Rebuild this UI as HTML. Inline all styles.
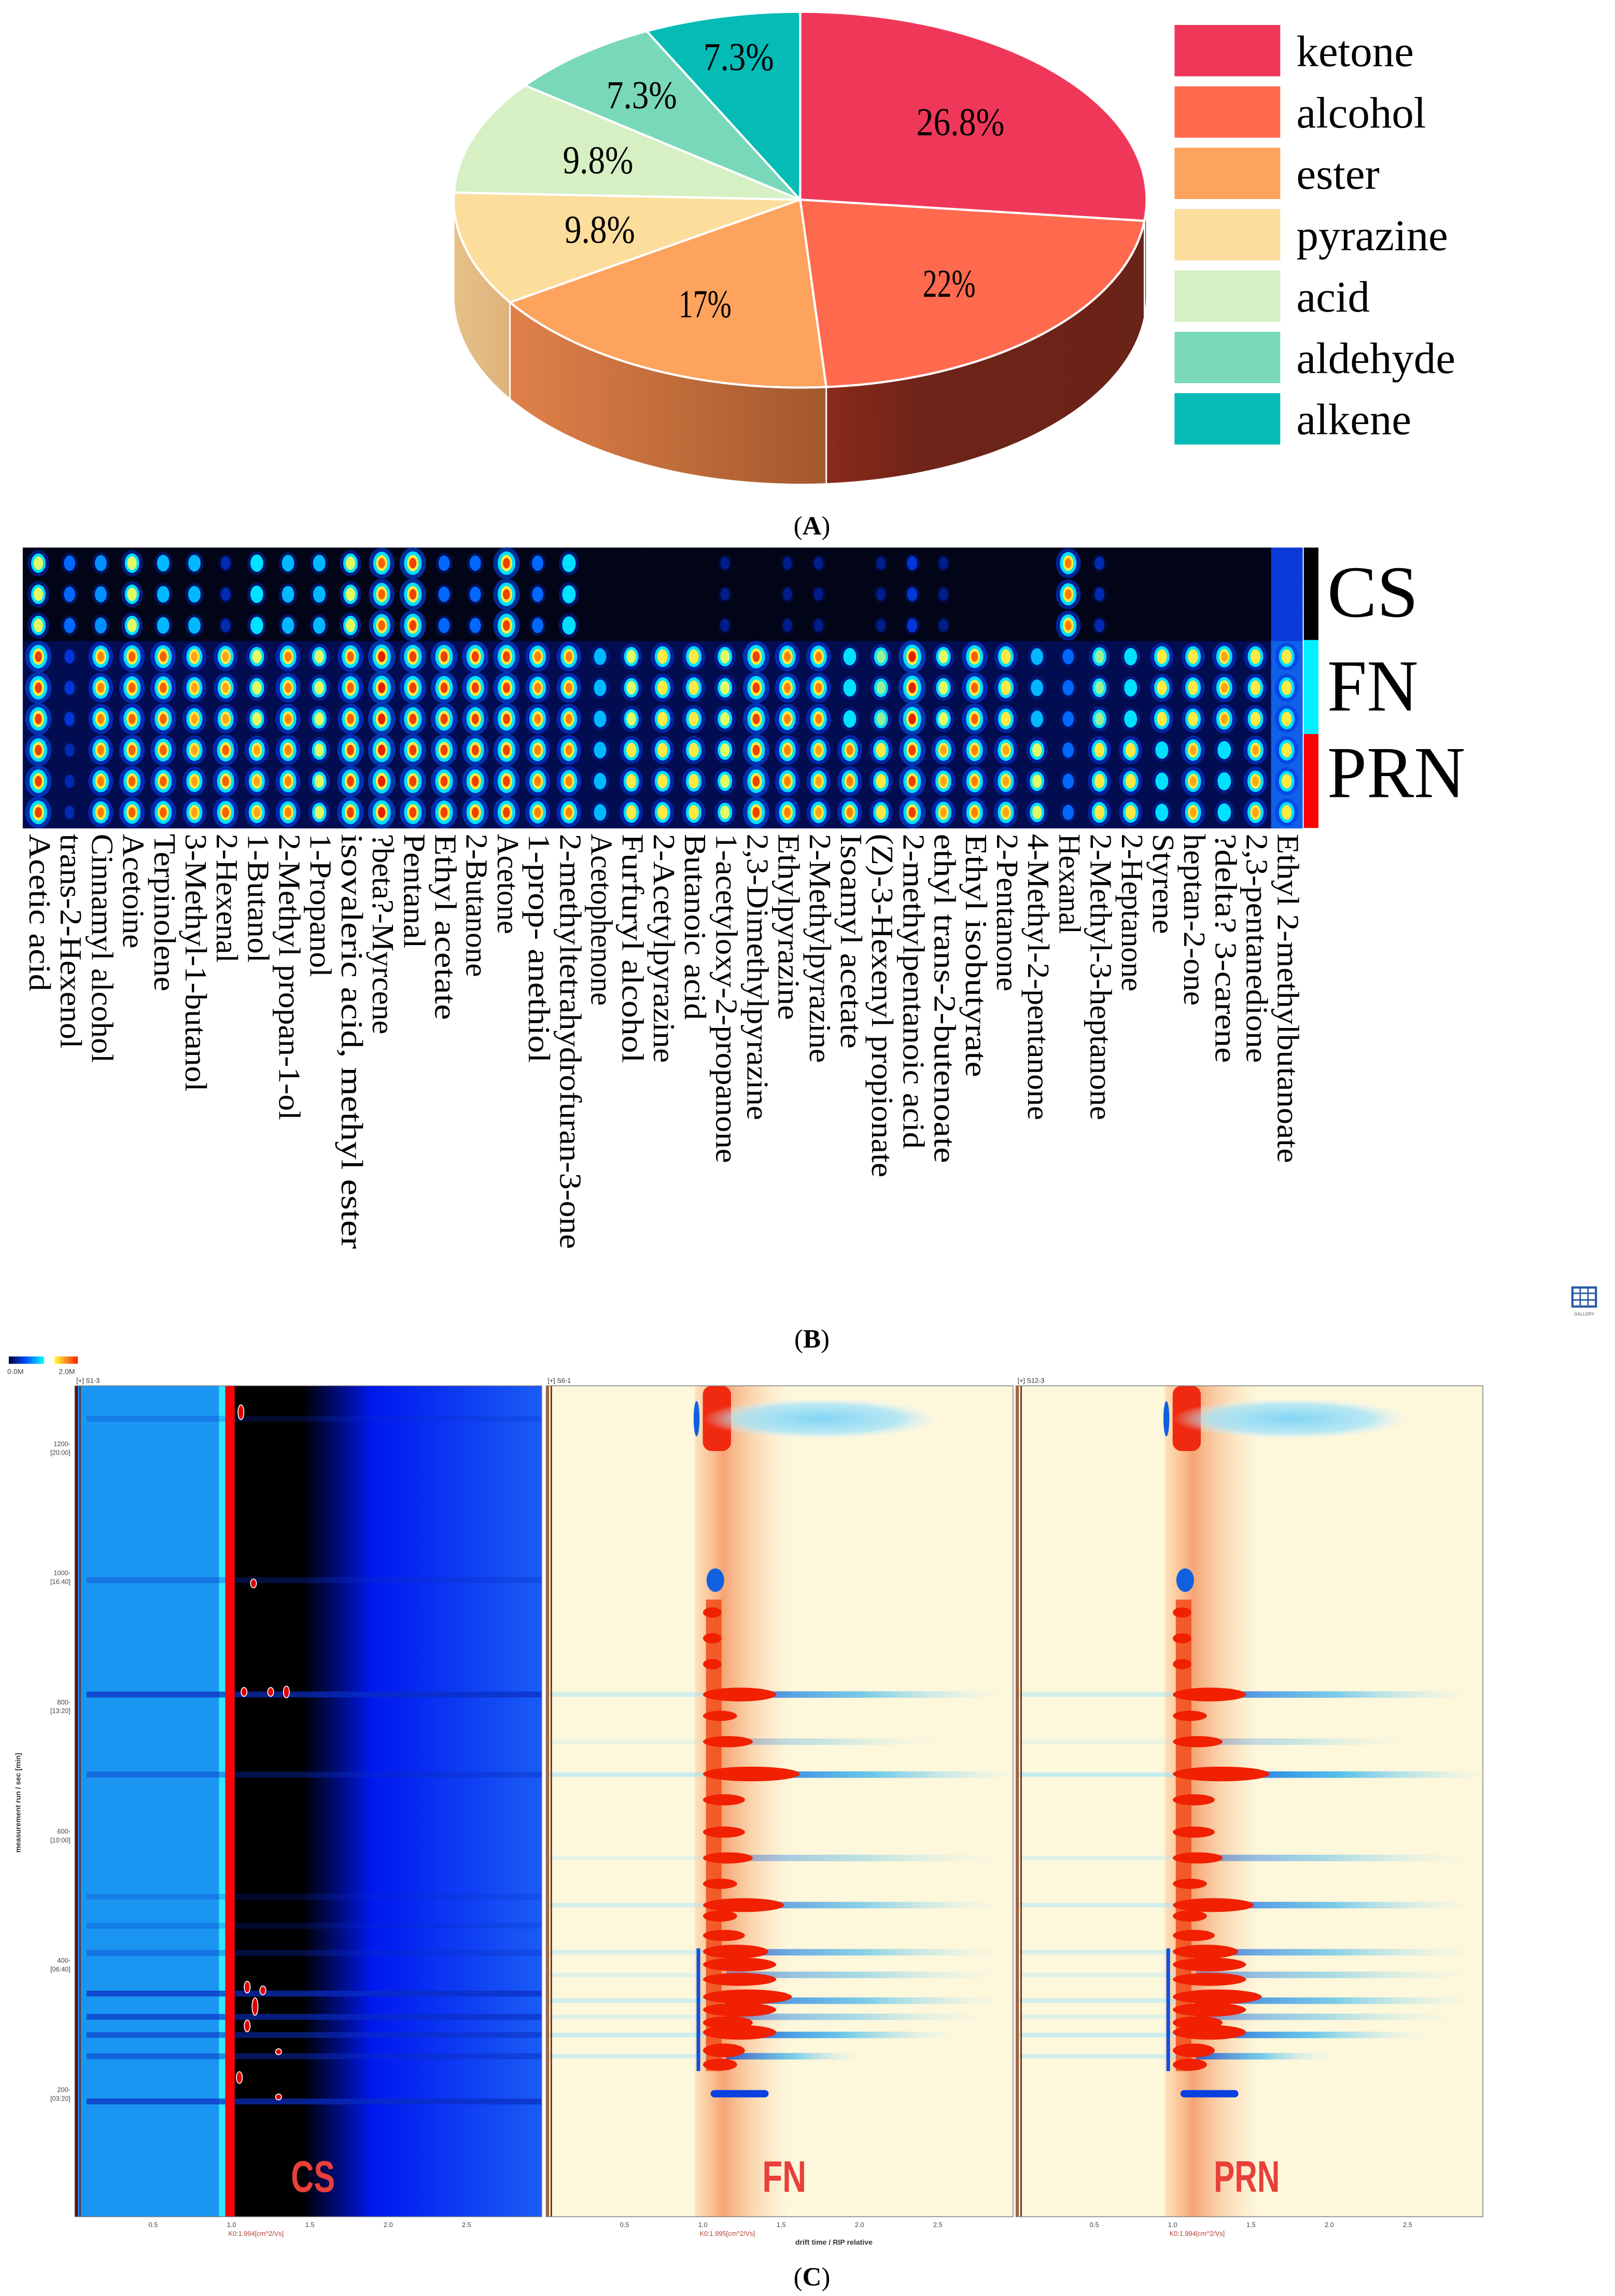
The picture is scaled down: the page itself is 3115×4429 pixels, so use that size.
<!DOCTYPE html>
<html><head><meta charset="utf-8">
<style>
html,body{margin:0;padding:0;background:#fff;}
svg{display:block;}
</style></head>
<body>
<svg id="fig" xmlns="http://www.w3.org/2000/svg" width="3115" height="4429" viewBox="0 0 1100 1564" preserveAspectRatio="none">
<defs>
<linearGradient id="gEsterSide" x1="0" x2="1" y1="0" y2="0"><stop offset="0" stop-color="#e0814a"/><stop offset="1" stop-color="#a3582d"/></linearGradient>
<linearGradient id="gAlcSide" x1="0" x2="1" y1="0" y2="0"><stop offset="0" stop-color="#8a2a1c"/><stop offset="0.3" stop-color="#6e2418"/><stop offset="1" stop-color="#6a2318"/></linearGradient>
<linearGradient id="gPyrSide" x1="0" x2="1"><stop offset="0" stop-color="#e6c089"/><stop offset="1" stop-color="#deb37c"/></linearGradient>
<linearGradient id="gCsRight" x1="0" x2="1"><stop offset="0" stop-color="#000000"/><stop offset="0.22" stop-color="#000000"/><stop offset="0.45" stop-color="#0018f0"/><stop offset="1" stop-color="#1a5cf5"/></linearGradient>
<linearGradient id="gBandBlue" x1="0" x2="1"><stop offset="0" stop-color="#0044e0" stop-opacity="0.95"/><stop offset="0.5" stop-color="#10a8f0" stop-opacity="0.7"/><stop offset="1" stop-color="#a0e8ff" stop-opacity="0"/></linearGradient>
<linearGradient id="gStreak" x1="0" x2="1"><stop offset="0" stop-color="#ff8a3a" stop-opacity="0.2"/><stop offset="0.3" stop-color="#f06020" stop-opacity="0.55"/><stop offset="1" stop-color="#f8c080" stop-opacity="0"/></linearGradient>
<linearGradient id="gCbar1" x1="0" x2="1"><stop offset="0" stop-color="#000040"/><stop offset="0.5" stop-color="#0050ff"/><stop offset="1" stop-color="#00ffff"/></linearGradient>
<linearGradient id="gCbar2" x1="0" x2="1"><stop offset="0" stop-color="#ffff40"/><stop offset="1" stop-color="#ff2000"/></linearGradient>
<radialGradient id="gCloud"><stop offset="0" stop-color="#80d4f4"/><stop offset="0.7" stop-color="#a8e4f8" stop-opacity="0.8"/><stop offset="1" stop-color="#d8f2fb" stop-opacity="0"/></radialGradient>
</defs>
<g id="pie"></g>
<g id="legend"></g>
<text x="553" y="364" font-family="Liberation Serif, serif" font-size="18" text-anchor="middle">(<tspan font-weight="bold">A</tspan>)</text>
<g id="heat"></g>
<g id="grp">
<rect x="888" y="373" width="10" height="63" fill="#000"/>
<rect x="888" y="436" width="10" height="64" fill="#00f0ff"/>
<rect x="888" y="500" width="10" height="64" fill="#ff0000"/>
<text x="904" y="420" font-family="Liberation Serif, serif" font-size="50" textLength="62" lengthAdjust="spacingAndGlyphs">CS</text>
<text x="904" y="484" font-family="Liberation Serif, serif" font-size="50" textLength="62" lengthAdjust="spacingAndGlyphs">FN</text>
<text x="904" y="543" font-family="Liberation Serif, serif" font-size="50" textLength="94" lengthAdjust="spacingAndGlyphs">PRN</text>
</g>
<g>
<rect x="1071" y="877" width="16" height="13" fill="none" stroke="#2a5aa0" stroke-width="1.5"/>
<line x1="1071" y1="881" x2="1087" y2="881" stroke="#2a5aa0" stroke-width="1"/>
<line x1="1071" y1="885.5" x2="1087" y2="885.5" stroke="#2a5aa0" stroke-width="1"/>
<line x1="1076.3" y1="877" x2="1076.3" y2="890" stroke="#2a5aa0" stroke-width="1"/>
<line x1="1081.6" y1="877" x2="1081.6" y2="890" stroke="#2a5aa0" stroke-width="1"/>
<text x="1079" y="896" font-family="Liberation Sans, sans-serif" font-size="3" text-anchor="middle" fill="#555">GALLERY</text>
</g>
<text x="553" y="918" font-family="Liberation Serif, serif" font-size="18" text-anchor="middle">(<tspan font-weight="bold">B</tspan>)</text>
<g id="gc"></g>
<text x="553" y="1557" font-family="Liberation Serif, serif" font-size="18" text-anchor="middle">(<tspan font-weight="bold">C</tspan>)</text>
</svg>
<script>
// ---------------- Pie data ----------------
const pieLabels = ['ketone','alcohol','ester','pyrazine','acid','aldehyde','alkene'];
const pieValues = [26.8, 22, 17, 9.8, 9.8, 7.3, 7.3];
const pieText = ['26.8%','22%','17%','9.8%','9.8%','7.3%','7.3%'];
const pieColors = ['#ef3859','#ff6a4f','#fda35e','#fddd9c','#d6f0c4','#79d8b9','#04bbb6'];

// ---------------- Heatmap data ----------------
const compounds = ['Acetic acid','trans-2-Hexenol','Cinnamyl alcohol','Acetoine','Terpinolene','3-Methyl-1-butanol','2-Hexenal','1-Butanol','2-Methyl propan-1-ol','1-Propanol','isovaleric acid, methyl ester','?beta?-Myrcene','Pentanal','Ethyl acetate','2-Butanone','Acetone','1-prop- anethiol','2-methyltetrahydrofuran-3-one','Acetophenone','Furfuryl alcohol','2-Acetylpyrazine','Butanoic acid','1-acetyloxy-2-propanone','2,3-Dimethylpyrazine','Ethylpyrazine','2-Methylpyrazine','Isoamyl acetate','(Z)-3-Hexenyl propionate','2-methylpentanoic acid','ethyl trans-2-butenoate','Ethyl isobutyrate','2-Pentanone','4-Methyl-2-pentanone','Hexanal','2-Methyl-3-heptanone','2-Heptanone','Styrene','heptan-2-one','?delta? 3-carene','2,3-pentanedione','Ethyl 2-methylbutanoate'];
const csVals  = [0.6,0.3,0.35,0.6,0.4,0.4,0.15,0.45,0.4,0.4,0.6,0.85,0.9,0.3,0.3,0.9,0.3,0.5,0.05,0.05,0.05,0.05,0.1,0.05,0.1,0.1,0.05,0.1,0.2,0.1,0.05,0.05,0.05,0.8,0.15,0.05,0.05,0.05,0.05,0.05,0.05];
const fnVals  = [0.9,0.2,0.8,0.85,0.85,0.75,0.75,0.6,0.8,0.6,0.85,0.95,0.9,0.9,0.9,0.9,0.8,0.8,0.4,0.6,0.7,0.7,0.6,0.9,0.8,0.8,0.45,0.55,0.95,0.6,0.85,0.7,0.4,0.3,0.55,0.45,0.7,0.7,0.75,0.7,0.7];
const prnVals = [0.9,0.15,0.8,0.85,0.85,0.75,0.85,0.75,0.8,0.6,0.9,0.95,0.9,0.9,0.9,0.9,0.8,0.8,0.4,0.7,0.7,0.7,0.6,0.9,0.8,0.75,0.8,0.7,0.9,0.75,0.8,0.75,0.6,0.3,0.7,0.7,0.45,0.75,0.5,0.75,0.7];

// ---------------- GC-IMS data ----------------
const yTicks = [200,400,600,800,1000,1200];
const yTickMin = ['[03:20]','[06:40]','[10:00]','[13:20]','[16:40]','[20:00]'];
const xTicks = [0.5,1.0,1.5,2.0,2.5];
const csBandTimes = [183,253,286,314,350,413,455,500,689,813,990,1240];
const csBandStrength = [0.9,0.6,0.7,0.8,0.9,0.4,0.3,0.3,0.5,0.9,0.4,0.3];
const fnBandTimes = [253,286,314,339,379,414,487,560,689,740,813];
const fnBandStrength = [0.8,0.9,0.5,0.8,0.5,0.7,0.7,0.4,0.9,0.3,0.8];
const fnBandEnd = [2.0,2.6,2.8,2.9,2.9,2.9,2.9,2.9,3.0,2.5,2.9];
const prnBandStrength = [0.8,0.9,0.5,0.8,0.5,0.7,0.8,0.5,1.0,0.3,0.8];
const redTimes = [240,262,290,305,325,345,372,395,415,440,470,487,520,560,600,650,690,740,780,813,860,900,940];
const redDrift = [1.2,1.25,1.45,1.3,1.45,1.55,1.45,1.45,1.4,1.25,1.2,1.5,1.2,1.3,1.25,1.25,1.6,1.3,1.2,1.45,1.1,1.1,1.1];
const redSize = [0.7,0.9,1.0,0.8,0.9,1.0,0.8,0.9,0.9,0.6,0.6,0.9,0.5,0.6,0.6,0.6,1.0,0.6,0.5,0.9,0.5,0.5,0.5];

const NS='http://www.w3.org/2000/svg';
function mk(tag, attrs, parent){const e=document.createElementNS(NS,tag);for(const k in attrs)e.setAttribute(k,attrs[k]);parent.appendChild(e);return e;}

// ---------------- Pie ----------------
(function(){
  const g=document.getElementById('pie');
  const cx=545, cy=136, rx=236, ry=128, depth=66;
  const P=(a,dy)=>[cx+rx*Math.sin(a), cy-ry*Math.cos(a)+(dy||0)];
  const total=pieValues.reduce((a,b)=>a+b,0);
  let acc=0; const ang=[];
  pieValues.forEach(v=>{const a1=acc/total*2*Math.PI; acc+=v; ang.push([a1,acc/total*2*Math.PI]);});
  const sideFill=['#7a2519','url(#gAlcSide)','url(#gEsterSide)','url(#gPyrSide)','#d8e8c0','#60b8a0','#049c98'];
  ang.forEach((a,i)=>{
    const s=Math.max(a[0],Math.PI/2), e=Math.min(a[1],3*Math.PI/2);
    if(e<=s) return;
    const p1=P(s),p2=P(e),p3=P(e,depth),p4=P(s,depth);
    const side=mk('path',{d:`M${p1} A${rx} ${ry} 0 0 1 ${p2} L${p3} A${rx} ${ry} 0 0 0 ${p4} Z`,fill:sideFill[i],stroke:'#fff','stroke-width':1},g);
    
    
  });
  ang.forEach((a,i)=>{
    const p1=P(a[0]),p2=P(a[1]);
    const large=(a[1]-a[0])>Math.PI?1:0;
    const sl=mk('path',{d:`M${cx},${cy} L${p1} A${rx} ${ry} 0 ${large} 1 ${p2} Z`,fill:pieColors[i],stroke:'#fff','stroke-width':1.5},g);
    
    
  });
  const labelR=[0.62,0.62,0.62,0.6,0.62,0.72,0.78];
  ang.forEach((a,i)=>{
    const m=(a[0]+a[1])/2;
    const x=cx+rx*labelR[i]*Math.sin(m), y=cy-ry*labelR[i]*Math.cos(m)+9;
    const t=mk('text',{x:x,y:y,'text-anchor':'middle','font-family':'Liberation Serif, serif','font-size':27,textLength:pieText[i].length*12,lengthAdjust:'spacingAndGlyphs'},g);
    t.textContent=pieText[i];
    
    
  });
  const lg=document.getElementById('legend');
  pieLabels.forEach((l,i)=>{
    const y=17+i*41.8;
    const r=mk('rect',{x:800,y:y,width:72,height:35,fill:pieColors[i]},lg);
    
    
    const t=mk('text',{x:883,y:y+28,'font-family':'Liberation Serif, serif','font-size':30},lg);
    t.textContent=l;
    
    
  });
})();

// ---------------- Heatmap ----------------
(function(){
  const g=document.getElementById('heat');
  const x0=15.5, x1=887, y0=373, y1=564, n=compounds.length;
  const cw=(x1-x0)/n, rh=(y1-y0)/9;
  const stops=[[0,[0,8,60]],[0.25,[0,64,255]],[0.45,[0,224,255]],[0.62,[255,255,80]],[0.8,[255,128,0]],[1,[220,0,0]]];
  function cmap(v){v=Math.max(0,Math.min(1,v));for(let i=1;i<stops.length;i++){if(v<=stops[i][0]){const a=stops[i-1],b=stops[i];const t=(v-a[0])/(b[0]-a[0]);const c=a[1].map((q,k)=>Math.round(q+(b[1][k]-q)*t));return `rgb(${c})`;}}return 'rgb(220,0,0)';}
  for(let c=0;c<n;c++){
    const xc=x0+cw*(c+0.5);
    for(let r=0;r<9;r++){
      const v = r<3?csVals[c]:(r<6?fnVals[c]:prnVals[c]);
      const y=y0+r*rh, ycen=y+rh/2;
      const bg = r<3 ? (c===n-1?'#0a3ad8':'#020418') : (c===n-1?'#1060e8':'#020c50');
      const cell=mk('rect',{x:x0+c*cw,y:y,width:cw+0.3,height:rh+0.3,fill:bg},g);
      
      
      if(v>0.08){
        const rxO=cw*(0.13+0.17*v), ryO=rh*(0.18+0.22*v);
        const o=mk('ellipse',{cx:xc,cy:ycen,rx:rxO*1.5,ry:ryO*1.35,fill:cmap(v*0.3),opacity:0.55},g);
        
        
        const m=mk('ellipse',{cx:xc,cy:ycen,rx:rxO,ry:ryO,fill:cmap(Math.min(v,0.45))},g);
        
        
        if(v>0.5){
          const k=mk('ellipse',{cx:xc,cy:ycen,rx:rxO*0.65,ry:ryO*0.7,fill:cmap(Math.min(v,0.65))},g);
          
          
        }
        if(v>0.7){
          const k2=mk('ellipse',{cx:xc,cy:ycen,rx:rxO*0.4,ry:ryO*0.45,fill:cmap(v)},g);
          
          
        }
      }
    }
    const t=mk('text',{transform:`translate(${xc-6},568) rotate(90)`,'font-family':'Liberation Serif, serif','font-size':21,textLength:compounds[c].length*9.75,lengthAdjust:'spacingAndGlyphs'},g);
    t.textContent=compounds[c];
    
    
  }
})();

// ---------------- GC-IMS panels ----------------
(function(){
  const g=document.getElementById('gc');
  const top=944, bot=1510;
  const yT=t=>1424-(t-200)*0.44;
  const panels=[[51,'S1-3','K0:1.994[cm^2/Vs]','CS'],[372,'S6-1','K0:1.995[cm^2/Vs]','FN'],[692,'S12-3','K0:1.994[cm^2/Vs]','PRN']];
  const W=318, dx=106.7;
  mk('rect',{x:6,y:924,width:24,height:5,fill:'url(#gCbar1)'},g);
  mk('rect',{x:37,y:924,width:16,height:5,fill:'url(#gCbar2)'},g);
  const cb1=mk('text',{x:5,y:936,'font-family':'Liberation Sans, sans-serif','font-size':5,fill:'#444'},g); cb1.textContent='0.0M';
  const cb2=mk('text',{x:40,y:936,'font-family':'Liberation Sans, sans-serif','font-size':5,fill:'#444'},g); cb2.textContent='2.0M';
  panels.forEach((p,pi)=>{
    const L=p[0], X=d=>L+d*dx;
    const pg=mk('g',{},g);
    
    
    if(pi===0){
      mk('rect',{x:L,y:top,width:W,height:bot-top,fill:'#1a96f2'},pg);
      mk('rect',{x:X(0.92),y:top,width:X(1.0)-X(0.92),height:bot-top,fill:'#30e8ff'},pg);
      mk('rect',{x:X(1.02),y:top,width:L+W-X(1.02),height:bot-top,fill:'url(#gCsRight)'},pg);
      csBandTimes.forEach((t,i)=>{
        const s=csBandStrength[i];
        const b=mk('rect',{x:L+8,y:yT(t)-2,width:W-8,height:4,fill:'#0a2ec0',opacity:s*0.8},pg);
        
        
      });
      mk('rect',{x:X(0.96),y:top,width:X(1.02)-X(0.96),height:bot-top,fill:'#ff0000'},pg);
      const spots=[[1.06,1250,5],[1.14,985,3],[1.35,817,4],[1.25,817,3],[1.08,817,3],[1.1,360,4],[1.2,355,3],[1.15,330,6],[1.3,260,2],[1.3,190,2],[1.1,300,4],[1.05,220,4]];
      spots.forEach(s=>{mk('ellipse',{cx:X(s[0]),cy:yT(s[1]),rx:2,ry:s[2],fill:'#e00000',stroke:'#fff','stroke-width':0.6},pg);});
    } else {
      mk('rect',{x:L,y:top,width:W,height:bot-top,fill:'#fdf7dc'},pg);
      mk('rect',{x:X(0.95),y:top,width:X(1.55)-X(0.95),height:bot-top,fill:'url(#gStreak)'},pg);
      mk('rect',{x:X(1.0),y:top,width:X(1.18)-X(1.0),height:yT(1190)-top,fill:'#f02a10',rx:6},pg);
      mk('ellipse',{cx:X(1.75),cy:yT(1240),rx:dx*0.75,ry:14,fill:'url(#gCloud)'},pg);
      mk('ellipse',{cx:X(0.96),cy:yT(1240),rx:2,ry:12,fill:'#1060e0'},pg);
      mk('ellipse',{cx:X(1.08),cy:yT(990),rx:6,ry:8,fill:'#1060e0'},pg);
      mk('rect',{x:X(1.02),y:yT(960),width:X(1.12)-X(1.02),height:yT(230)-yT(960),fill:'#f04a18',opacity:0.85},pg);
      const strength = pi===1?fnBandStrength:prnBandStrength;
      fnBandTimes.forEach((t,i)=>{
        const s=strength[i];
        const b=mk('rect',{x:X(1.15),y:yT(t)-2.2,width:X(fnBandEnd[i])-X(1.15),height:4.4,fill:'url(#gBandBlue)',opacity:s},pg);
        
        
        const lb=mk('rect',{x:L+2,y:yT(t)-1.5,width:X(1.0)-L,height:3,fill:'#9fe4fb',opacity:s*0.6},pg);
        
        
      });
      redTimes.forEach((t,i)=>{
        const s=redSize[i];
        const b=mk('ellipse',{cx:(X(1.02)+X(redDrift[i]))/2,cy:yT(t),rx:(X(redDrift[i])-X(1.02))/2+2,ry:2+3*s,fill:'#f02000'},pg);
        
        
      });
      mk('rect',{x:X(1.05),y:yT(195)-2.5,width:X(1.42)-X(1.05),height:5,fill:'#0a40e0',rx:2.5},pg);
      mk('rect',{x:X(0.96),y:yT(420),width:2.5,height:yT(230)-yT(420),fill:'#1050e0'},pg);
    }
    mk('rect',{x:L,y:top,width:2,height:bot-top,fill:pi===0?'#5a0a0a':'#b06030'},pg);
    mk('rect',{x:L+3,y:top,width:1,height:bot-top,fill:'#603020'},pg);
    mk('rect',{x:L,y:top,width:W,height:bot-top,fill:'none',stroke:'#777','stroke-width':0.5},pg);
    const hd=mk('text',{x:L+1,y:top-2,'font-family':'Liberation Sans, sans-serif','font-size':4.5,fill:'#333'},pg);
    hd.textContent='[+] '+p[1];
    xTicks.forEach(d=>{
      const t=mk('text',{x:X(d),y:bot+7,'text-anchor':'middle','font-family':'Liberation Sans, sans-serif','font-size':4.5,fill:'#444'},pg);
      t.textContent=d.toFixed(1);
      
      
    });
    const k=mk('text',{x:X(0.98),y:bot+13,'font-family':'Liberation Sans, sans-serif','font-size':4.5,fill:'#b04030'},pg);
    k.textContent=p[2];
    const lab=mk('text',{x:X(1.52)+(pi===2?-5:0),y:1493,'text-anchor':'middle','font-family':'Liberation Sans, sans-serif','font-weight':'bold','font-size':30,fill:'#e8403a',textLength:p[3].length*15,lengthAdjust:'spacingAndGlyphs'},pg);
    lab.textContent=p[3];
    
    
  });
  yTicks.forEach((t,i)=>{
    const a=mk('text',{x:48,y:yT(t)+1,'text-anchor':'end','font-family':'Liberation Sans, sans-serif','font-size':4.5,fill:'#444'},g);
    a.textContent=t+'-';
    
    
    const b=mk('text',{x:48,y:yT(t)+7,'text-anchor':'end','font-family':'Liberation Sans, sans-serif','font-size':4.5,fill:'#444'},g);
    b.textContent=yTickMin[i];
  });
  const yt=mk('text',{transform:'translate(14,1228) rotate(-90)','text-anchor':'middle','font-family':'Liberation Sans, sans-serif','font-weight':'bold','font-size':5,fill:'#333'},g);
  yt.textContent='measurement run / sec [min]';
  
  
  const xt=mk('text',{x:568,y:1529,'text-anchor':'middle','font-family':'Liberation Sans, sans-serif','font-weight':'bold','font-size':5,fill:'#333'},g);
  xt.textContent='drift time / RIP relative';
  
  
})();
</script>
</body></html>
